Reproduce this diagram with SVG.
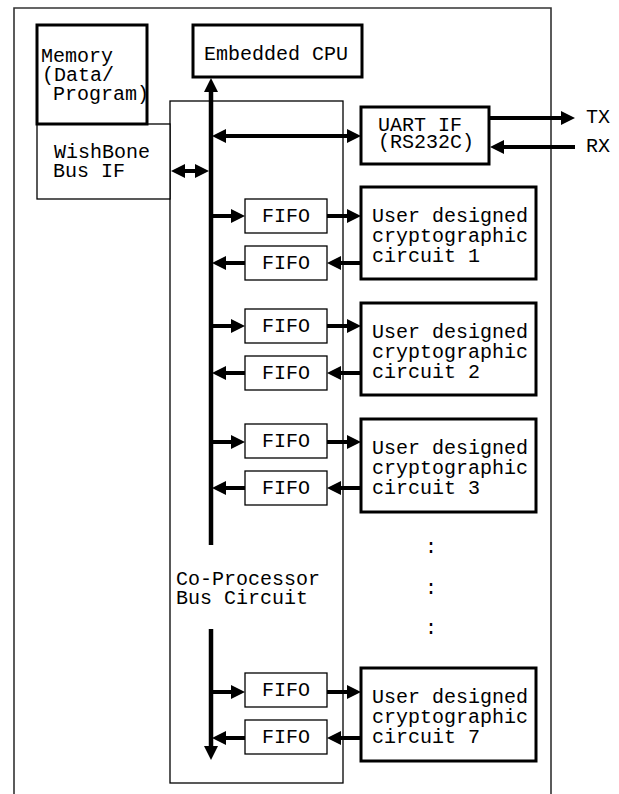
<svg xmlns="http://www.w3.org/2000/svg" width="619" height="794" viewBox="0 0 619 794">
<style>
  text { font-family: "Liberation Mono", "Courier New", monospace; font-size: 20px; fill: #000; }
  .thick { fill: #fff; stroke: #000; stroke-width: 3; }
  .thin { fill: #fff; stroke: #000; stroke-width: 1.3; }
  .frame { fill: none; stroke: #333; stroke-width: 1.6; }
  .bus { stroke: #000; stroke-width: 4.5; fill: none; }
  .arr { stroke: #000; stroke-width: 4; fill: none; }
  .a1 { marker-end: url(#ah); }
  .a2 { marker-start: url(#ah); marker-end: url(#ah); }
  .a0 { marker-start: url(#ah); }
</style>
<defs>
  <marker id="ah" markerUnits="userSpaceOnUse" markerWidth="15" markerHeight="14" refX="3" refY="7" orient="auto-start-reverse" viewBox="0 0 15 14">
    <path d="M0,0 L14,7 L0,14 z" fill="#000"/>
  </marker>
</defs>
<rect width="619" height="794" fill="#fff"/>
<path id="frame" class="frame" d="M14,794 L14,8 L551,8 L551,794"/>

<g id="coprocessor">
  <rect class="thin" x="170" y="101" width="173" height="682"/>
  <text x="176" y="585">Co-Processor</text>
  <text x="176" y="604">Bus Circuit</text>
</g>
<g id="wishbone">
  <rect class="thin" x="37" y="124" width="133" height="75"/>
  <text x="54" y="158">WishBone</text>
  <text x="53" y="177">Bus IF</text>
</g>
<g id="memory">
  <rect class="thick" x="37" y="25" width="110" height="99"/>
  <text x="41" y="62">Memory</text>
  <text x="42" y="81">(Data/</text>
  <text x="53" y="100">Program)</text>
</g>
<g id="cpu">
  <rect class="thick" x="193" y="25" width="169" height="52"/>
  <text x="204" y="60">Embedded CPU</text>
</g>
<g id="uart">
  <rect class="thick" x="361" y="107" width="128" height="57"/>
  <text x="378" y="131">UART IF</text>
  <text x="378" y="148">(RS232C)</text>
</g>
<g id="tx"><text x="586" y="123">TX</text></g>
<g id="rx"><text x="586" y="152">RX</text></g>

<g id="fifo1a"><rect class="thin" x="245" y="199" width="82" height="34"/><text x="262" y="222">FIFO</text></g>
<g id="fifo1b"><rect class="thin" x="245" y="246" width="82" height="34"/><text x="262" y="269">FIFO</text></g>
<g id="crypto1"><rect class="thick" x="361" y="187" width="175" height="92"/>
  <text x="372" y="222">User designed</text><text x="372" y="242">cryptographic</text><text x="372" y="262">circuit 1</text></g>

<g id="fifo2a"><rect class="thin" x="245" y="309" width="82" height="34"/><text x="262" y="332">FIFO</text></g>
<g id="fifo2b"><rect class="thin" x="245" y="356" width="82" height="34"/><text x="262" y="379">FIFO</text></g>
<g id="crypto2"><rect class="thick" x="361" y="303" width="175" height="92"/>
  <text x="372" y="338">User designed</text><text x="372" y="358">cryptographic</text><text x="372" y="378">circuit 2</text></g>

<g id="fifo3a"><rect class="thin" x="245" y="424" width="82" height="34"/><text x="262" y="447">FIFO</text></g>
<g id="fifo3b"><rect class="thin" x="245" y="471" width="82" height="34"/><text x="262" y="494">FIFO</text></g>
<g id="crypto3"><rect class="thick" x="361" y="419" width="175" height="93"/>
  <text x="372" y="454">User designed</text><text x="372" y="474">cryptographic</text><text x="372" y="494">circuit 3</text></g>

<g id="fifo7a"><rect class="thin" x="245" y="673" width="82" height="34"/><text x="262" y="696">FIFO</text></g>
<g id="fifo7b"><rect class="thin" x="245" y="720" width="82" height="34"/><text x="262" y="743">FIFO</text></g>
<g id="crypto7"><rect class="thick" x="361" y="668" width="175" height="93"/>
  <text x="372" y="703">User designed</text><text x="372" y="723">cryptographic</text><text x="372" y="743">circuit 7</text></g>

<g id="ellipsis">
  <text x="431" y="553" text-anchor="middle">:</text>
  <text x="431" y="594" text-anchor="middle">:</text>
  <text x="431" y="634" text-anchor="middle">:</text>
</g>

<g id="connectors">
  <line class="bus a0" x1="211" y1="89" x2="211" y2="545"/>
  <line class="bus a1" x1="211" y1="629" x2="211" y2="749"/>
  <line class="arr a2" x1="223" y1="136" x2="350" y2="136"/>
  <line class="arr a2" x1="182" y1="171" x2="198" y2="171"/>
  <line class="arr a1" x1="489" y1="118" x2="564" y2="118"/>
  <line class="arr a1" x1="575" y1="147" x2="501" y2="147"/>

  <line class="arr a1" x1="211" y1="216" x2="234" y2="216"/>
  <line class="arr a1" x1="327" y1="216" x2="350" y2="216"/>
  <line class="arr a1" x1="361" y1="263" x2="338" y2="263"/>
  <line class="arr a1" x1="245" y1="263" x2="223" y2="263"/>

  <line class="arr a1" x1="211" y1="326" x2="234" y2="326"/>
  <line class="arr a1" x1="327" y1="326" x2="350" y2="326"/>
  <line class="arr a1" x1="361" y1="373" x2="338" y2="373"/>
  <line class="arr a1" x1="245" y1="373" x2="223" y2="373"/>

  <line class="arr a1" x1="211" y1="442" x2="234" y2="442"/>
  <line class="arr a1" x1="327" y1="442" x2="350" y2="442"/>
  <line class="arr a1" x1="361" y1="488" x2="338" y2="488"/>
  <line class="arr a1" x1="245" y1="488" x2="223" y2="488"/>

  <line class="arr a1" x1="211" y1="692" x2="234" y2="692"/>
  <line class="arr a1" x1="327" y1="692" x2="350" y2="692"/>
  <line class="arr a1" x1="361" y1="738" x2="338" y2="738"/>
  <line class="arr a1" x1="245" y1="738" x2="223" y2="738"/>
</g>
</svg>
